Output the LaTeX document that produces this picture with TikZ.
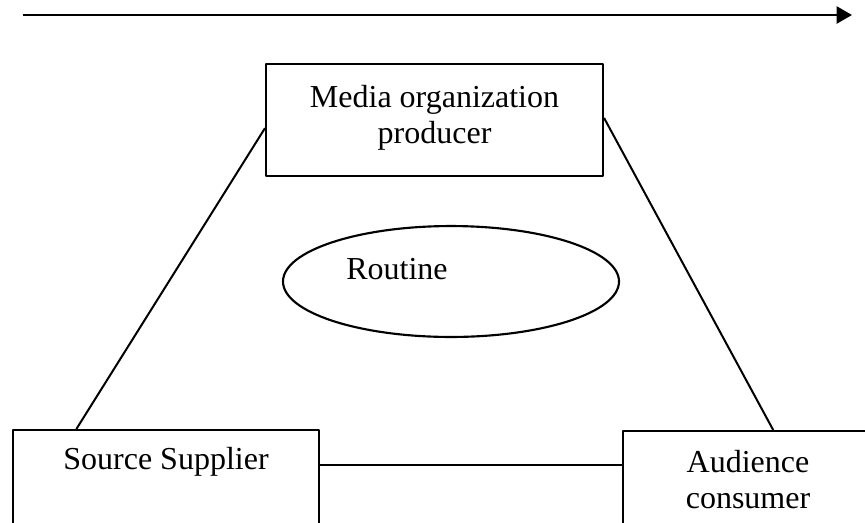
\documentclass[tikz,border=0pt]{standalone}
\usepackage{fontspec}
\setmainfont{Liberation Serif}
\usetikzlibrary{arrows.meta,shapes.geometric,calc}
\begin{document}
\begin{tikzpicture}[x=0.375pt,y=-0.375pt, font=\fontsize{12pt}{13.5pt}\selectfont, line join=round,
    box/.style={draw, line width=.75pt, align=center, anchor=north west}]
            \useasboundingbox (0,0) rectangle (865,522);
            \clip (0,0) rectangle (865,522);
            %\draw[color=gray!50,dashed] (0,0) grid[step=50] (865,522);
            \coordinate (tail) at (23,15);
            \coordinate (head) at (852,15);
            \draw[line width=1pt,-{Triangle[length=5.8pt,width=6.4pt]}] (tail)--(head);
            \node[box, minimum width=126.4pt, minimum height=42pt, text depth=4pt] (media) at (265,63) {Media organization\\producer};
            \node[draw, line width=.8pt, ellipse, inner sep=0pt, minimum width=126pt, minimum height=41.6pt] (routine) at (451,281.5) {};
            \node (rtext) at (397,269) {Routine};
            \node[box, minimum width=114.75pt, text height=11.4pt, text depth=80pt] (src) at (12,429) {Source Supplier};
            \node[box, minimum width=93.75pt, inner ysep=7.4pt, text depth=80pt] (aud) at (622,430) {Audience\\consumer};
            \coordinate (mid) at (0,465);
            \draw[line width=.75pt] ($(src.north west)!0.209!(src.north east)$)--($(media.north west)!0.571!(media.south west)$);
            \draw[line width=.75pt] ($(media.north east)!0.482!(media.south east)$)--($(aud.north west)!0.6!(aud.north east)$);
            \draw[line width=.75pt] (src.east |- mid)--(aud.west |- mid);
    \end{tikzpicture}
\end{document}
